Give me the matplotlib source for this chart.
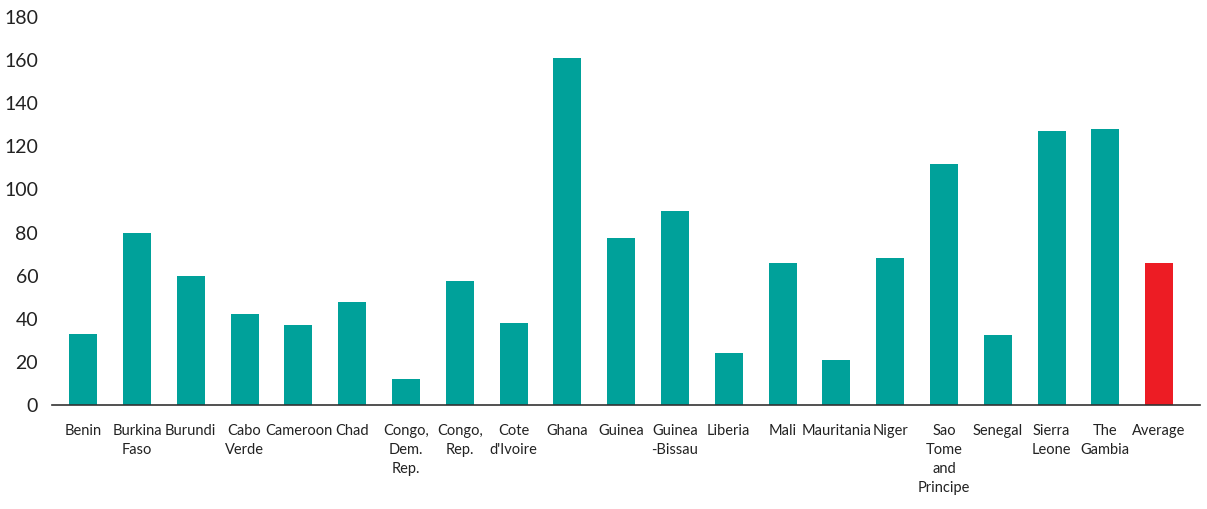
import matplotlib.pyplot as plt

countries = ['Benin', 'Burkina\nFaso', 'Burundi', 'Cabo\nVerde', 'Cameroon', 'Chad',
             'Congo,\nDem.\nRep.', 'Congo,\nRep.', 'Cote\nd\'Ivoire', 'Ghana', 'Guinea',
             'Guinea\n-Bissau', 'Liberia', 'Mali', 'Mauritania', 'Niger',
             'Sao\nTome\nand\nPrincipe', 'Senegal', 'Sierra\nLeone', 'The\nGambia', 'Average']
values = [33, 80, 60, 42, 37, 48, 12, 57.5, 38, 161, 77.5, 90, 24, 66, 21, 68, 112,
          32.5, 127, 128, 66]
yticks = [0, 20, 40, 60, 80, 100, 120, 140, 160, 180]

teal = '#00A19A'
red = '#ED1C24'
colors = [teal] * (len(values) - 1) + [red]

plt.rcParams['font.family'] = ['Lato', 'DejaVu Sans']

fig = plt.figure(figsize=(12.07, 5.09), dpi=100)
ax = fig.add_axes([0.0431, 0.2043, 0.9511, 0.7623])

x = list(range(len(values)))
ax.bar(x, values, width=0.52, color=colors, zorder=2)

ax.set_xlim(-0.58, 20.76)
ax.set_ylim(0, 180)
ax.set_yticks(yticks)
ax.set_yticklabels([str(t) for t in yticks], fontsize=14, color='#222222')
ax.set_xticks(x)
ax.set_xticklabels(countries, fontsize=10.5, color='#222222', linespacing=1.45,
                   ha='center', va='top')

for s in ['top', 'right', 'left']:
    ax.spines[s].set_visible(False)
ax.spines['bottom'].set_color('#333333')
ax.spines['bottom'].set_linewidth(1.2)
ax.spines['bottom'].set_zorder(3)
ax.tick_params(axis='both', length=0)
ax.tick_params(axis='y', pad=10)
ax.tick_params(axis='x', pad=14)

fig.savefig('out.png', dpi=100)
